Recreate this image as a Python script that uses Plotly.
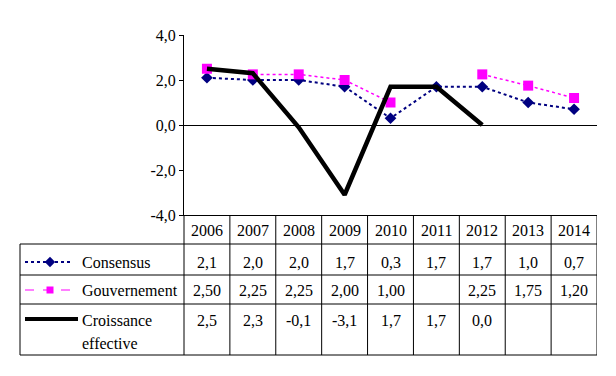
import plotly.graph_objects as go

# ---------------- data ----------------
years = ["2006", "2007", "2008", "2009", "2010", "2011", "2012", "2013", "2014"]
consensus = [2.1, 2.0, 2.0, 1.7, 0.3, 1.7, 1.7, 1.0, 0.7]
gouvernement = [2.50, 2.25, 2.25, 2.00, 1.00, None, 2.25, 1.75, 1.20]
croissance = [2.5, 2.3, -0.1, -3.1, 1.7, 1.7, 0.0, None, None]
series_labels = ["Consensus", "Gouvernement", "Croissance", "effective"]
y_ticks = [-4, -2, 0, 2, 4]


def fr(v, d):
    if v is None:
        return ""
    return f"{v:.{d}f}".replace(".", ",")


y_ticktext = [fr(v, 1) for v in y_ticks]

# ---------------- layout constants (pixels) ----------------
W, H = 616, 376
PL, PR, PT, PB = 184, 597, 35, 215
FONT = "Liberation Serif"
FS = 16
NAVY = "#000080"
MAG = "#FF00FF"

fig = go.Figure()

# main series
fig.add_trace(go.Scatter(x=years, y=consensus, mode="lines+markers",
                         line=dict(color=NAVY, width=2, dash="dot"),
                         marker=dict(symbol="diamond", size=9, color=NAVY),
                         showlegend=False, xaxis="x", yaxis="y"))
fig.add_trace(go.Scatter(x=years, y=gouvernement, mode="lines+markers",
                         line=dict(color=MAG, width=1.5, dash="dot"),
                         marker=dict(symbol="square", size=10, color=MAG),
                         connectgaps=False,
                         showlegend=False, xaxis="x", yaxis="y"))
fig.add_trace(go.Scatter(x=years, y=croissance, mode="lines",
                         line=dict(color="black", width=4.5),
                         showlegend=False, xaxis="x", yaxis="y"))

# legend keys inside the table (pixel overlay axes)
key_rows = [262, 290, 319]
fig.add_trace(go.Scatter(x=[25, 73], y=[key_rows[0]] * 2, mode="lines",
                         line=dict(color=NAVY, width=2, dash="dot"),
                         showlegend=False, xaxis="x2", yaxis="y2", hoverinfo="skip"))
fig.add_trace(go.Scatter(x=[50], y=[key_rows[0]], mode="markers",
                         marker=dict(symbol="diamond", size=8, color=NAVY),
                         showlegend=False, xaxis="x2", yaxis="y2", hoverinfo="skip"))
fig.add_trace(go.Scatter(x=[25, 73], y=[key_rows[1]] * 2, mode="lines",
                         line=dict(color=MAG, width=1.2, dash="dash"),
                         showlegend=False, xaxis="x2", yaxis="y2", hoverinfo="skip"))
fig.add_trace(go.Scatter(x=[50], y=[key_rows[1]], mode="markers",
                         marker=dict(symbol="square", size=7, color=MAG),
                         showlegend=False, xaxis="x2", yaxis="y2", hoverinfo="skip"))
fig.add_trace(go.Scatter(x=[25, 78], y=[key_rows[2]] * 2, mode="lines",
                         line=dict(color="black", width=4),
                         showlegend=False, xaxis="x2", yaxis="y2", hoverinfo="skip"))

# ---------------- table ----------------
row_lines = [244, 275, 304, 355]
shapes = []
line_style = dict(color="black", width=1)
for yl in row_lines:
    shapes.append(dict(type="line", xref="x2", yref="y2", x0=20, x1=PR, y0=yl, y1=yl, line=line_style))
shapes.append(dict(type="line", xref="x2", yref="y2", x0=20, x1=20, y0=244, y1=355, line=line_style))
shapes.append(dict(type="line", xref="x2", yref="y2", x0=PL, x1=PL, y0=PB, y1=355, line=line_style))
ncat = len(years)
for i in range(1, ncat + 1):
    shapes.append(dict(type="line", xref="x", yref="y2", x0=i - 0.5, x1=i - 0.5,
                       y0=PB, y1=355, line=line_style))

annotations = []
tfont = dict(family=FONT, size=FS, color="black")
for i, yr in enumerate(years):
    annotations.append(dict(x=i, y=230, xref="x", yref="y2", text=yr, showarrow=False,
                            font=tfont, xanchor="center", yanchor="middle"))
    annotations.append(dict(x=i, y=262, xref="x", yref="y2", text=fr(consensus[i], 1),
                            showarrow=False, font=tfont, xanchor="center", yanchor="middle"))
    annotations.append(dict(x=i, y=290, xref="x", yref="y2", text=fr(gouvernement[i], 2),
                            showarrow=False, font=tfont, xanchor="center", yanchor="middle"))
    annotations.append(dict(x=i, y=320, xref="x", yref="y2", text=fr(croissance[i], 1),
                            showarrow=False, font=tfont, xanchor="center", yanchor="middle"))

label_y = [262, 290, 320, 343]
for lab, ly in zip(series_labels, label_y):
    annotations.append(dict(x=80, y=ly, xref="x2", yref="y2", text=lab, showarrow=False,
                            font=tfont, xanchor="left", yanchor="middle"))

fig.update_layout(
    template="none",
    width=W, height=H,
    margin=dict(l=0, r=0, t=0, b=0, pad=0, autoexpand=False),
    paper_bgcolor="white", plot_bgcolor="rgba(0,0,0,0)",
    font=dict(family=FONT, size=FS, color="black"),
    xaxis=dict(type="category", domain=[PL / W, PR / W], range=[-0.5, ncat - 0.5],
               showline=True, linecolor="black", linewidth=1, showgrid=False,
               zeroline=False, showticklabels=False, ticks="", anchor="y", automargin=False),
    yaxis=dict(domain=[(H - PB) / H, (H - PT) / H], range=[-4, 4],
               tickvals=y_ticks, ticktext=y_ticktext, ticks="outside", ticklen=4,
               tickcolor="black", showline=True, linecolor="black", linewidth=1,
               showgrid=False, zeroline=True, zerolinecolor="black", zerolinewidth=1,
               tickfont=dict(family=FONT, size=FS, color="black"), anchor="x", automargin=False),
    xaxis2=dict(domain=[0, 1], range=[0, W], visible=False, anchor="y2", fixedrange=True),
    yaxis2=dict(domain=[0, 1], range=[H, 0], visible=False, anchor="x2", fixedrange=True),
    shapes=shapes,
    annotations=annotations,
    showlegend=False,
)

fig.write_html("out.html", config={"displayModeBar": False},
               post_script="document.body.style.margin='0';")
